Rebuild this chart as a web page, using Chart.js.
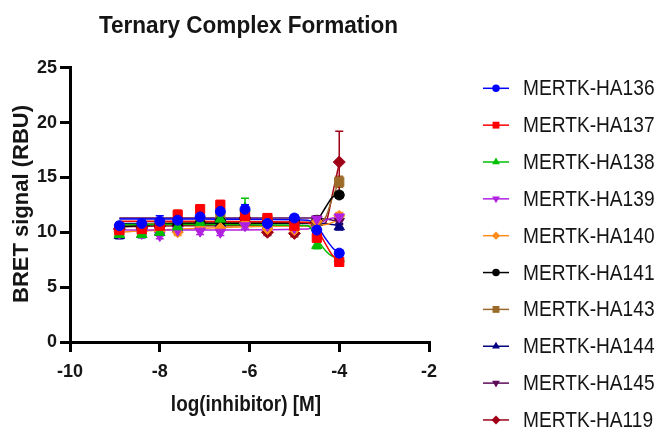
<!DOCTYPE html>
<html>
<head>
<meta charset="utf-8">
<title>Ternary Complex Formation</title>
<script src="https://cdn.jsdelivr.net/npm/chart.js@4.4.1/dist/chart.umd.min.js"></script>
<style>
  html, body { margin: 0; padding: 0; background: #fff; }
  canvas { display: block; }
</style>
</head>
<body>
<canvas id="chart" width="661" height="431"></canvas>
<script>
// Dose points (log M) and the points used to trace each fitted curve
const logInhibitor = [-8.9, -8.4, -8.0, -7.6, -7.1, -6.65, -6.1, -5.6, -5.0, -4.5, -4.0];
const fitLogInhibitor = [-8.9, -7.5, -4.7, -4.5, -4.3, -4.15, -4.0];

const seriesNames = ["MERTK-HA136", "MERTK-HA137", "MERTK-HA138", "MERTK-HA139", "MERTK-HA140",
                     "MERTK-HA141", "MERTK-HA143", "MERTK-HA144", "MERTK-HA145", "MERTK-HA119"];

// Mean BRET signal (RBU), SEM, and fitted curve for each construct
const ha136 = [10.6, 10.8, 11.0, 11.1, 11.4, 11.9, 12.1, 10.8, 11.3, 10.2, 8.1];
const ha136Sem = [0.3, 0.3, 0.5, 0.4, 0.3, 0.5, 0.4, 0.3, 0.3, 0.4, 0.3];
const ha136Fit = [11.2, 11.2, 11.1, 10.6, 9.4, 8.6, 8.1];

const ha137 = [10.2, 10.3, 10.6, 11.6, 12.1, 12.5, 11.5, 11.3, 10.6, 9.5, 7.3];
const ha137Sem = [0.3, 0.3, 0.3, 0.4, 0.4, 0.4, 0.4, 0.4, 0.4, 0.4, 0.3];
const ha137Fit = [11.0, 11.0, 10.9, 10.3, 8.9, 7.9, 7.4];

const ha138 = [9.8, 9.8, 10.0, 10.5, 10.9, 11.2, 12.2, 11.0, 10.8, 8.8, 7.6];
const ha138Sem = [0.2, 0.2, 0.3, 0.3, 0.3, 0.4, 0.9, 0.3, 0.3, 0.3, 0.3];
const ha138Fit = [10.7, 10.7, 10.6, 9.4, 8.3, 7.8, 7.6];

const ha139 = [9.9, 9.9, 9.7, 10.2, 10.1, 10.0, 10.6, 10.6, 10.4, 11.2, 11.4];
const ha139Sem = [0.3, 0.3, 0.3, 0.3, 0.3, 0.3, 0.3, 0.3, 0.3, 0.3, 0.3];
const ha139Fit = [10.2, 10.2, 10.3, 10.7, 11.1, 11.3, 11.3];

const ha140 = [10.1, 10.1, 10.1, 10.0, 10.4, 10.4, 10.8, 10.3, 10.2, 11.0, 11.5];
const ha140Sem = [0.3, 0.3, 0.3, 0.3, 0.3, 0.3, 0.3, 0.3, 0.3, 0.3, 0.3];
const ha140Fit = [10.0, 10.3, 10.6, 10.6, 10.7, 10.9, 11.1];

const ha141 = [10.4, 10.5, 10.6, 10.7, 10.8, 11.0, 11.3, 10.9, 11.0, 11.1, 13.4];
const ha141Sem = [0.3, 0.3, 0.3, 0.3, 0.3, 0.3, 0.3, 0.3, 0.3, 0.3, 0.3];
const ha141Fit = [10.5, 10.8, 10.9, 11.1, 12.3, 13.2, 13.4];

const ha143 = [10.0, 10.2, 10.4, 10.7, 11.0, 11.5, 11.4, 11.1, 10.7, 11.0, 14.6];
const ha143Sem = [0.3, 0.3, 0.3, 0.3, 0.3, 0.4, 0.3, 0.3, 0.3, 0.3, 0.5];
const ha143Fit = [10.6, 10.9, 10.9, 10.9, 11.4, 13.2, 14.6];

const ha144 = [9.7, 9.8, 10.0, 10.3, 10.6, 10.8, 11.0, 10.6, 10.5, 10.9, 10.5];
const ha144Sem = [0.3, 0.3, 0.3, 0.3, 0.3, 0.3, 0.3, 0.3, 0.3, 0.3, 0.3];
const ha144Fit = [10.8, 10.8, 10.8, 10.8, 10.8, 10.7, 10.6];

const ha145 = [10.0, 10.0, 10.2, 10.3, 10.5, 10.9, 10.9, 10.6, 10.5, 11.2, 11.0];
const ha145Sem = [0.3, 0.3, 0.3, 0.3, 0.3, 0.3, 0.3, 0.3, 0.3, 0.3, 0.3];
const ha145Fit = [11.3, 11.3, 11.3, 11.3, 11.2, 11.1, 11.0];

const ha119 = [10.3, 10.4, 10.6, 10.6, 10.9, 11.0, 11.3, 10.0, 9.9, 11.0, 16.4];
const ha119Sem = [0.3, 0.3, 0.3, 0.3, 0.3, 0.4, 0.3, 0.3, 0.3, 0.3, 2.8];
const ha119Fit = [10.5, 10.6, 10.6, 10.6, 10.9, 13.5, 16.3];

const yTicks = [0, 5, 10, 15, 20, 25];
const xTicks = [-10, -8, -6, -4, -2];

// Marker looks per construct
const seriesStyles = [
    { color: "#0000ff", pointStyle: "circle", rotation: 0, radius: 5 },
    { color: "#ff0000", pointStyle: "rect", rotation: 0, radius: 6.5 },
    { color: "#00c000", pointStyle: "triangle", rotation: 0, radius: 6 },
    { color: "#b020e0", pointStyle: "triangle", rotation: 180, radius: 6 },
    { color: "#ff8c1a", pointStyle: "rectRot", rotation: 0, radius: 5.5 },
    { color: "#000000", pointStyle: "circle", rotation: 0, radius: 5 },
    { color: "#9c6b2a", pointStyle: "rect", rotation: 0, radius: 6.5 },
    { color: "#000080", pointStyle: "triangle", rotation: 0, radius: 6 },
    { color: "#5c0a55", pointStyle: "triangle", rotation: 180, radius: 6 },
    { color: "#a00016", pointStyle: "rectRot", rotation: 0, radius: 6 }
];

const means = [ha136, ha137, ha138, ha139, ha140, ha141, ha143, ha144, ha145, ha119];
const sems = [ha136Sem, ha137Sem, ha138Sem, ha139Sem, ha140Sem, ha141Sem, ha143Sem, ha144Sem, ha145Sem, ha119Sem];
const fits = [ha136Fit, ha137Fit, ha138Fit, ha139Fit, ha140Fit, ha141Fit, ha143Fit, ha144Fit, ha145Fit, ha119Fit];

const FONT = '"Liberation Sans", Arial, sans-serif';
const TEXT_COLOR = "#151515";

// Measured points (drawn on top) and their fitted curves (behind)
const datasets = [];
means.forEach((values, i) => {
    const s = seriesStyles[i];
    datasets.push({
        label: seriesNames[i],
        data: logInhibitor.map((x, j) => ({ x: x, y: values[j] })),
        sem: sems[i],
        showLine: false,
        pointStyle: s.pointStyle,
        rotation: s.rotation,
        pointRadius: s.radius,
        pointBackgroundColor: s.color,
        pointBorderColor: s.color,
        pointBorderWidth: 1,
        order: 0
    });
});
fits.forEach((values, i) => {
    datasets.push({
        label: seriesNames[i] + " fit",
        data: fitLogInhibitor.map((x, j) => ({ x: x, y: values[j] })),
        showLine: true,
        cubicInterpolationMode: "monotone",
        borderColor: seriesStyles[i].color,
        borderWidth: 1.5,
        pointRadius: 0,
        order: 1
    });
});

// Vertical SEM bars with caps, drawn before the markers
const errorBars = {
    id: "errorBars",
    beforeDatasetsDraw(chart) {
        const ctx = chart.ctx;
        const xs = chart.scales.x, ys = chart.scales.y;
        ctx.save();
        ctx.lineWidth = 1.5;
        chart.data.datasets.forEach((ds, i) => {
            if (!ds.sem) return;
            ctx.strokeStyle = seriesStyles[i].color;
            ds.data.forEach((p, j) => {
                const px = xs.getPixelForValue(p.x);
                const top = ys.getPixelForValue(p.y + ds.sem[j]);
                const bot = ys.getPixelForValue(p.y - ds.sem[j]);
                ctx.beginPath();
                ctx.moveTo(px, top); ctx.lineTo(px, bot);
                ctx.moveTo(px - 4, top); ctx.lineTo(px + 4, top);
                ctx.moveTo(px - 4, bot); ctx.lineTo(px + 4, bot);
                ctx.stroke();
            });
        });
        ctx.restore();
    }
};

// Squeezed bold titles and a line+marker legend
function squeezedText(ctx, text, x, y, font, squeeze, align) {
    ctx.save();
    ctx.translate(x, y);
    ctx.scale(squeeze, 1);
    ctx.font = font;
    ctx.textAlign = align;
    ctx.fillText(text, 0, 0);
    ctx.restore();
}

const annotations = {
    id: "annotations",
    afterDraw(chart) {
        const ctx = chart.ctx;
        ctx.save();
        ctx.fillStyle = TEXT_COLOR;
        ctx.textBaseline = "alphabetic";
        squeezedText(ctx, "Ternary Complex Formation", 248.5, 33, "bold 24px " + FONT, 0.94, "center");
        squeezedText(ctx, "log(inhibitor) [M]", 246, 411, "bold 22px " + FONT, 0.86, "center");

        ctx.save();
        ctx.translate(22, 204);
        ctx.rotate(-Math.PI / 2);
        ctx.font = "bold 22px " + FONT;
        ctx.textAlign = "center";
        ctx.textBaseline = "middle";
        ctx.fillText("BRET signal (RBU)", 0, 0);
        ctx.restore();

        seriesNames.forEach((name, i) => {
            const s = seriesStyles[i];
            const y = 88.3 + i * 36.85;
            ctx.strokeStyle = s.color;
            ctx.fillStyle = s.color;
            ctx.lineWidth = 1.5;
            ctx.beginPath();
            ctx.moveTo(483, y); ctx.lineTo(509, y);
            ctx.stroke();
            Chart.helpers.drawPoint(ctx, {
                pointStyle: s.pointStyle, rotation: s.rotation,
                radius: s.radius * 0.75, borderWidth: 0
            }, 496, y);
            ctx.fillStyle = TEXT_COLOR;
            ctx.save();
            ctx.textBaseline = "middle";
            squeezedText(ctx, name, 523, y + 1, "22px " + FONT, 0.87, "left");
            ctx.restore();
        });
        ctx.restore();
    }
};

new Chart(document.getElementById("chart"), {
    type: "scatter",
    data: { datasets: datasets },
    options: {
        responsive: false,
        animation: false,
        layout: { padding: { top: 67.7, right: 232, bottom: 0, left: 0 } },
        plugins: {
            legend: { display: false },
            tooltip: { enabled: false },
            title: { display: false }
        },
        scales: {
            x: {
                type: "linear",
                min: -10,
                max: -2,
                afterBuildTicks: (scale) => { scale.ticks = xTicks.map(v => ({ value: v })); },
                afterFit: (scale) => { scale.height = 89; },
                border: { display: true, color: "#000", width: 3 },
                grid: { display: true, drawOnChartArea: false, drawTicks: true, tickLength: 10, color: "#000", lineWidth: 3 },
                ticks: { color: TEXT_COLOR, font: { family: FONT, size: 18, weight: "bold" }, padding: 9, maxRotation: 0 }
            },
            y: {
                type: "linear",
                min: 0,
                max: 25,
                afterBuildTicks: (scale) => { scale.ticks = yTicks.map(v => ({ value: v })); },
                afterFit: (scale) => { scale.width = 70; },
                border: { display: true, color: "#000", width: 3 },
                grid: { display: true, drawOnChartArea: false, drawTicks: true, tickLength: 10, color: "#000", lineWidth: 3 },
                ticks: { color: TEXT_COLOR, font: { family: FONT, size: 18, weight: "bold" }, padding: 3 }
            }
        }
    },
    plugins: [errorBars, annotations]
});
</script>
</body>
</html>
